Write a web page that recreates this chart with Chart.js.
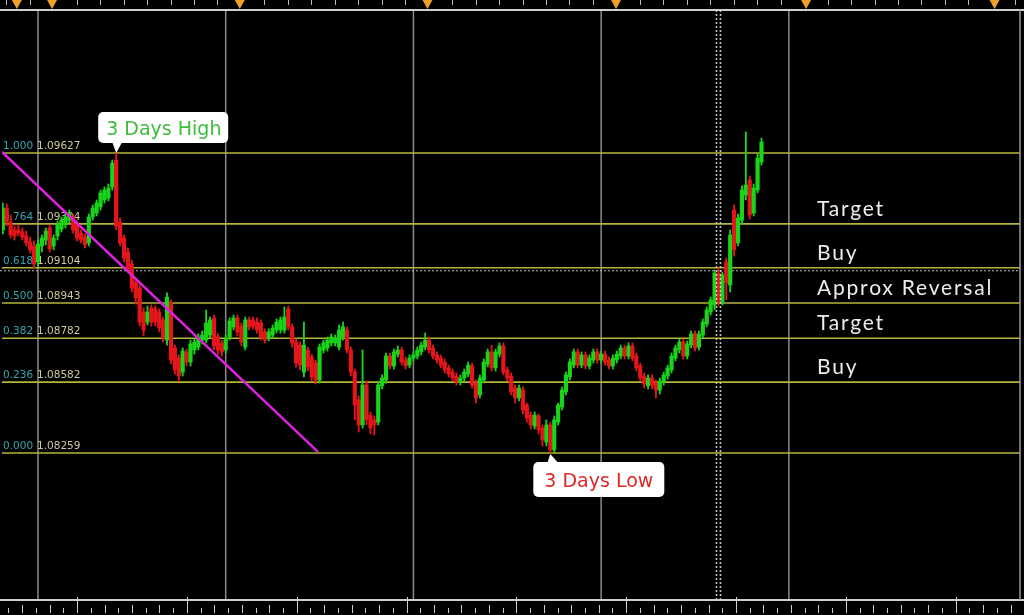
<!DOCTYPE html>
<html>
<head>
<meta charset="utf-8">
<title>EURUSD M30 - Fibonacci 3 days</title>
<script src="https://cdn.jsdelivr.net/npm/chart.js@4.4.0/dist/chart.umd.min.js"></script>
<style>
  html, body { margin: 0; padding: 0; background: #000; }
  #wrap { width: 1024px; height: 615px; position: relative; }
</style>
</head>
<body>
<div id="wrap"><canvas id="fibChart"></canvas></div>
<script>
// one entry per 30 minute bar, index 0 = first visible bar
const opens = [
  1.09276, 1.09376, 1.09312, 1.09276, 1.09276, 1.09267, 1.09249, 1.09221, 1.09203, 1.09130,
  1.09203, 1.09230, 1.09285, 1.09203, 1.09249, 1.09280, 1.09299, 1.09321, 1.09335, 1.09303,
  1.09262, 1.09244, 1.09217, 1.09335, 1.09353, 1.09381, 1.09413, 1.09422, 1.09472, 1.09595,
  1.09312, 1.09239, 1.09176, 1.09121, 1.09039, 1.09011, 1.08902, 1.08856, 1.08920, 1.08916,
  1.08902, 1.08866, 1.08774, 1.08943, 1.08738, 1.08692, 1.08628, 1.08720, 1.08674, 1.08729,
  1.08742, 1.08774, 1.08774, 1.08797, 1.08875, 1.08788, 1.08761, 1.08729, 1.08788, 1.08834,
  1.08875, 1.08838, 1.08742, 1.08866, 1.08866, 1.08856, 1.08852, 1.08811, 1.08783, 1.08797,
  1.08820, 1.08820, 1.08820, 1.08916, 1.08834, 1.08765, 1.08751, 1.08628, 1.08729, 1.08697,
  1.08669, 1.08592, 1.08729, 1.08738, 1.08761, 1.08761, 1.08742, 1.08788, 1.08820, 1.08729,
  1.08628, 1.08501, 1.08387, 1.08569, 1.08432, 1.08410, 1.08400, 1.08565, 1.08592, 1.08701,
  1.08656, 1.08710, 1.08729, 1.08683, 1.08660, 1.08692, 1.08701, 1.08720, 1.08742, 1.08774,
  1.08738, 1.08706, 1.08692, 1.08674, 1.08647, 1.08628, 1.08610, 1.08583, 1.08601, 1.08619,
  1.08656, 1.08578, 1.08524, 1.08592, 1.08665, 1.08720, 1.08647, 1.08710, 1.08747, 1.08638,
  1.08610, 1.08555, 1.08510, 1.08546, 1.08478, 1.08432, 1.08382, 1.08428, 1.08373, 1.08309,
  1.08387, 1.08273, 1.08400, 1.08469, 1.08537, 1.08606, 1.08660, 1.08720, 1.08660, 1.08706,
  1.08656, 1.08683, 1.08720, 1.08683, 1.08710, 1.08683, 1.08656, 1.08683, 1.08701, 1.08738,
  1.08701, 1.08747, 1.08701, 1.08656, 1.08610, 1.08565, 1.08601, 1.08578, 1.08546, 1.08583,
  1.08610, 1.08638, 1.08692, 1.08729, 1.08765, 1.08701, 1.08751, 1.08802, 1.08742, 1.08797,
  1.08847, 1.08902, 1.08934, 1.09080, 1.08948, 1.09130, 1.09025, 1.09367, 1.09217, 1.09321,
  1.09435, 1.09504, 1.09353, 1.09458, 1.09586
];
const highs = [
  1.09399, 1.09395, 1.09344, 1.09294, 1.09299, 1.09285, 1.09271, 1.09244, 1.09226, 1.09230,
  1.09253, 1.09285, 1.09299, 1.09253, 1.09317, 1.09335, 1.09349, 1.09367, 1.09349, 1.09317,
  1.09276, 1.09258, 1.09349, 1.09390, 1.09413, 1.09458, 1.09472, 1.09486, 1.09595, 1.09627,
  1.09331, 1.09253, 1.09194, 1.09139, 1.09057, 1.09025, 1.08920, 1.08929, 1.08934, 1.08929,
  1.08916, 1.08879, 1.08989, 1.08957, 1.08751, 1.08706, 1.08738, 1.08733, 1.08774, 1.08779,
  1.08802, 1.08815, 1.08911, 1.08879, 1.08888, 1.08802, 1.08774, 1.08797, 1.08875, 1.08888,
  1.08888, 1.08852, 1.08879, 1.08879, 1.08879, 1.08875, 1.08866, 1.08825, 1.08825, 1.08843,
  1.08870, 1.08879, 1.08925, 1.08929, 1.08847, 1.08779, 1.08765, 1.08856, 1.08742, 1.08710,
  1.08683, 1.08756, 1.08774, 1.08788, 1.08802, 1.08797, 1.08843, 1.08856, 1.08834, 1.08742,
  1.08642, 1.08519, 1.08729, 1.08587, 1.08446, 1.08428, 1.08587, 1.08615, 1.08715, 1.08715,
  1.08733, 1.08747, 1.08742, 1.08697, 1.08706, 1.08720, 1.08742, 1.08765, 1.08806, 1.08788,
  1.08751, 1.08720, 1.08706, 1.08688, 1.08660, 1.08642, 1.08624, 1.08615, 1.08642, 1.08674,
  1.08669, 1.08592, 1.08615, 1.08688, 1.08733, 1.08751, 1.08733, 1.08761, 1.08761, 1.08651,
  1.08624, 1.08569, 1.08569, 1.08560, 1.08487, 1.08446, 1.08446, 1.08437, 1.08387, 1.08410,
  1.08400, 1.08428, 1.08487, 1.08560, 1.08628, 1.08688, 1.08733, 1.08733, 1.08720, 1.08720,
  1.08706, 1.08733, 1.08733, 1.08724, 1.08724, 1.08697, 1.08706, 1.08724, 1.08751, 1.08751,
  1.08761, 1.08761, 1.08715, 1.08669, 1.08624, 1.08615, 1.08615, 1.08592, 1.08601, 1.08628,
  1.08660, 1.08715, 1.08751, 1.08779, 1.08779, 1.08770, 1.08815, 1.08815, 1.08815, 1.08870,
  1.08925, 1.08970, 1.09094, 1.09103, 1.09084, 1.09148, 1.09276, 1.09390, 1.09349, 1.09477,
  1.09723, 1.09522, 1.09486, 1.09622, 1.09695
];
const lows = [
  1.09258, 1.09294, 1.09239, 1.09230, 1.09249, 1.09230, 1.09203, 1.09171, 1.09103, 1.09112,
  1.09176, 1.09208, 1.09176, 1.09185, 1.09230, 1.09267, 1.09285, 1.09308, 1.09262, 1.09226,
  1.09217, 1.09194, 1.09203, 1.09321, 1.09340, 1.09367, 1.09399, 1.09408, 1.09458, 1.09276,
  1.09203, 1.09130, 1.09084, 1.08993, 1.08938, 1.08838, 1.08793, 1.08843, 1.08838, 1.08838,
  1.08811, 1.08765, 1.08751, 1.08665, 1.08619, 1.08587, 1.08610, 1.08656, 1.08656, 1.08710,
  1.08729, 1.08756, 1.08761, 1.08783, 1.08729, 1.08710, 1.08701, 1.08715, 1.08774, 1.08820,
  1.08793, 1.08747, 1.08729, 1.08820, 1.08825, 1.08806, 1.08774, 1.08761, 1.08770, 1.08783,
  1.08806, 1.08806, 1.08806, 1.08820, 1.08742, 1.08651, 1.08638, 1.08606, 1.08633, 1.08587,
  1.08574, 1.08578, 1.08715, 1.08724, 1.08747, 1.08747, 1.08729, 1.08774, 1.08715, 1.08610,
  1.08410, 1.08355, 1.08373, 1.08387, 1.08346, 1.08341, 1.08387, 1.08551, 1.08578, 1.08642,
  1.08642, 1.08697, 1.08660, 1.08642, 1.08647, 1.08679, 1.08688, 1.08706, 1.08729, 1.08715,
  1.08688, 1.08669, 1.08647, 1.08624, 1.08606, 1.08587, 1.08569, 1.08569, 1.08587, 1.08606,
  1.08555, 1.08487, 1.08510, 1.08578, 1.08651, 1.08633, 1.08633, 1.08697, 1.08615, 1.08587,
  1.08524, 1.08487, 1.08496, 1.08437, 1.08400, 1.08369, 1.08369, 1.08346, 1.08291, 1.08291,
  1.08259, 1.08264, 1.08387, 1.08455, 1.08524, 1.08592, 1.08647, 1.08647, 1.08647, 1.08642,
  1.08642, 1.08669, 1.08669, 1.08669, 1.08660, 1.08642, 1.08642, 1.08669, 1.08688, 1.08688,
  1.08688, 1.08679, 1.08633, 1.08587, 1.08555, 1.08551, 1.08551, 1.08510, 1.08528, 1.08569,
  1.08596, 1.08624, 1.08679, 1.08715, 1.08688, 1.08688, 1.08738, 1.08724, 1.08729, 1.08783,
  1.08834, 1.08888, 1.08911, 1.08929, 1.08934, 1.08957, 1.08993, 1.09157, 1.09203, 1.09303,
  1.09413, 1.09326, 1.09340, 1.09445, 1.09572
];
const closes = [
  1.09376, 1.09312, 1.09253, 1.09249, 1.09262, 1.09244, 1.09217, 1.09185, 1.09121, 1.09212,
  1.09239, 1.09271, 1.09189, 1.09239, 1.09303, 1.09321, 1.09335, 1.09353, 1.09276, 1.09239,
  1.09230, 1.09208, 1.09335, 1.09376, 1.09399, 1.09445, 1.09458, 1.09467, 1.09581, 1.09294,
  1.09217, 1.09148, 1.09103, 1.09011, 1.08966, 1.08856, 1.08820, 1.08902, 1.08856, 1.08856,
  1.08829, 1.08783, 1.08970, 1.08683, 1.08638, 1.08610, 1.08724, 1.08674, 1.08756, 1.08765,
  1.08788, 1.08797, 1.08852, 1.08866, 1.08747, 1.08729, 1.08720, 1.08783, 1.08861, 1.08875,
  1.08811, 1.08765, 1.08866, 1.08834, 1.08838, 1.08820, 1.08788, 1.08774, 1.08811, 1.08829,
  1.08856, 1.08866, 1.08879, 1.08834, 1.08761, 1.08669, 1.08660, 1.08751, 1.08651, 1.08606,
  1.08592, 1.08742, 1.08761, 1.08774, 1.08788, 1.08783, 1.08820, 1.08834, 1.08729, 1.08628,
  1.08478, 1.08387, 1.08569, 1.08410, 1.08373, 1.08387, 1.08569, 1.08601, 1.08701, 1.08656,
  1.08720, 1.08729, 1.08674, 1.08656, 1.08692, 1.08706, 1.08729, 1.08751, 1.08774, 1.08729,
  1.08701, 1.08683, 1.08660, 1.08638, 1.08619, 1.08601, 1.08583, 1.08601, 1.08628, 1.08660,
  1.08569, 1.08510, 1.08601, 1.08674, 1.08720, 1.08647, 1.08720, 1.08747, 1.08628, 1.08601,
  1.08537, 1.08510, 1.08555, 1.08455, 1.08419, 1.08387, 1.08432, 1.08364, 1.08318, 1.08387,
  1.08273, 1.08410, 1.08478, 1.08546, 1.08615, 1.08674, 1.08720, 1.08660, 1.08706, 1.08656,
  1.08692, 1.08720, 1.08683, 1.08710, 1.08674, 1.08656, 1.08692, 1.08710, 1.08738, 1.08701,
  1.08747, 1.08692, 1.08647, 1.08601, 1.08574, 1.08601, 1.08569, 1.08546, 1.08587, 1.08615,
  1.08647, 1.08701, 1.08738, 1.08765, 1.08701, 1.08756, 1.08802, 1.08738, 1.08802, 1.08856,
  1.08911, 1.08957, 1.09080, 1.08948, 1.09071, 1.09034, 1.09253, 1.09185, 1.09331, 1.09458,
  1.09481, 1.09344, 1.09467, 1.09604, 1.09677
];

// fibonacci retracement drawn from the 3 day high to the 3 day low
const fibRatios = ['1.000', '0.764', '0.618', '0.500', '0.382', '0.236', '0.000'];
const fibPrices = [1.09627, 1.09304, 1.09104, 1.08943, 1.08782, 1.08582, 1.08259];
// note written on the right, just above the level with the same index (0.764 .. 0.236)
const sideLabels = ['Target', 'Buy', 'Approx Reversal', 'Target', 'Buy'];
const sideLevels = [1, 2, 3, 4, 5];

const highBar = 29;    // 3 Days High
const lowBar = 140;    // 3 Days Low
const daySeparators = [9, 57, 105, 153, 201];
const markerBar = 183;
const eventMarks = [3.6, 12.6, 60.6, 108.6, 156.8, 205.4, 253.6];
const priceLine = 1.09090;
const trendX = [-0.2, 80.6];
const trendY = [1.09632, 1.08264];

const upColor = '#1ad41a';
const downColor = '#e5161b';
const candleColor = ctx => closes[ctx.dataIndex] >= opens[ctx.dataIndex] ? upColor : downColor;

const fibDecor = {
    id: 'fibDecor',
    beforeDatasetsDraw(chart) {
        const { ctx, chartArea: a, scales: { x, y } } = chart;
        ctx.save();
        // day separators
        ctx.strokeStyle = '#8a8a8a';
        ctx.lineWidth = 1.5;
        daySeparators.forEach(d => {
            const px = x.getPixelForValue(d);
            ctx.beginPath(); ctx.moveTo(px, a.top); ctx.lineTo(px, a.bottom); ctx.stroke();
        });
        // fibonacci levels
        fibPrices.forEach((p, k) => {
            const py = y.getPixelForValue(p);
            ctx.strokeStyle = '#b5b53a';
            ctx.lineWidth = 1.6;
            ctx.beginPath(); ctx.moveTo(a.left, py); ctx.lineTo(a.right, py); ctx.stroke();
            ctx.font = '10.5px "DejaVu Sans"';
            ctx.textBaseline = 'alphabetic';
            ctx.fillStyle = '#33a6ae';
            ctx.fillText(fibRatios[k], a.left + 1, py - 4);
            ctx.fillStyle = '#cdca9e';
            ctx.fillText(p.toFixed(5), a.left + 35, py - 4);
        });
        // dotted price line
        const pl = y.getPixelForValue(priceLine);
        ctx.strokeStyle = '#bdbdbd';
        ctx.lineWidth = 1;
        ctx.setLineDash([2, 2]);
        ctx.beginPath(); ctx.moveTo(0, pl); ctx.lineTo(a.right, pl); ctx.stroke();
        ctx.restore();
    },
    afterDatasetsDraw(chart) {
        const { ctx, chartArea: a, scales: { x, y } } = chart;
        ctx.save();
        // double dotted vertical marker
        const mx = x.getPixelForValue(markerBar);
        ctx.strokeStyle = '#c8c8c8';
        ctx.lineWidth = 1.5;
        ctx.setLineDash([2, 2]);
        [-2, 2].forEach(off => {
            ctx.beginPath(); ctx.moveTo(mx + off, a.top); ctx.lineTo(mx + off, a.bottom); ctx.stroke();
        });
        ctx.setLineDash([]);

        // notes on the right
        ctx.font = '21px Lato';
        ctx.letterSpacing = '1.8px';
        ctx.fillStyle = '#ededed';
        ctx.textBaseline = 'alphabetic';
        sideLabels.forEach((t, k) => {
            const py = y.getPixelForValue(fibPrices[sideLevels[k]]);
            ctx.fillText(t, a.left + 815, py - 8);
        });
        ctx.letterSpacing = '0px';

        // callouts
        const bubble = (bx, by, w, h, tri) => {
            ctx.fillStyle = '#ffffff';
            ctx.beginPath();
            ctx.roundRect(bx, by, w, h, 5);
            ctx.fill();
            ctx.beginPath();
            ctx.moveTo(tri[0][0], tri[0][1]);
            ctx.lineTo(tri[1][0], tri[1][1]);
            ctx.lineTo(tri[2][0], tri[2][1]);
            ctx.closePath();
            ctx.fill();
        };
        ctx.font = '19px "DejaVu Sans"';
        const hx = x.getPixelForValue(highBar), hy = y.getPixelForValue(highs[highBar]);
        bubble(hx - 18, hy - 41, 130, 31, [[hx - 4, hy - 11], [hx + 6, hy - 11], [hx, hy]]);
        ctx.fillStyle = '#3dbb3d';
        ctx.fillText('3 Days High', hx - 10, hy - 18);

        const lx = x.getPixelForValue(lowBar), ly = y.getPixelForValue(lows[lowBar]);
        bubble(lx - 17, ly + 9, 131, 35, [[lx - 3, ly + 10], [lx + 8, ly + 10], [lx, ly + 1]]);
        ctx.fillStyle = '#e12626';
        ctx.fillText('3 Days Low', lx - 6, ly + 34);
        ctx.restore();
    },
    afterDraw(chart) {
        const { ctx, chartArea: a, scales: { x } } = chart;
        const W = chart.width;
        ctx.save();
        // top time strip
        ctx.strokeStyle = '#bdbdbd';
        ctx.lineWidth = 1;
        for (let v = 0.9; v <= x.max; v += 6) {
            const px = Math.round(x.getPixelForValue(v)) + 0.5;
            ctx.beginPath(); ctx.moveTo(px, 0); ctx.lineTo(px, 5); ctx.stroke();
        }
        ctx.fillStyle = '#f0a02a';
        eventMarks.forEach(v => {
            const px = x.getPixelForValue(v);
            ctx.beginPath();
            ctx.moveTo(px - 5, 0); ctx.lineTo(px + 5, 0); ctx.lineTo(px, 9);
            ctx.closePath(); ctx.fill();
        });
        // frame
        ctx.strokeStyle = '#cfcfcf';
        ctx.lineWidth = 2;
        ctx.beginPath(); ctx.moveTo(0, a.top); ctx.lineTo(W, a.top); ctx.stroke();
        ctx.beginPath(); ctx.moveTo(0, a.bottom); ctx.lineTo(W, a.bottom); ctx.stroke();
        ctx.strokeStyle = '#9a9a9a';
        ctx.lineWidth = 1.5;
        ctx.beginPath(); ctx.moveTo(a.right, a.top); ctx.lineTo(a.right, a.bottom); ctx.stroke();
        // bottom ruler
        ctx.strokeStyle = '#d0d0d0';
        ctx.lineWidth = 1;
        const step = 3.51;
        for (let n = -8; 19 + n * step <= x.max + 2; n++) {
            const px = Math.round(x.getPixelForValue(19 + n * step)) + 0.5;
            const m = ((n % 8) + 8) % 8;
            const top = m === 0 ? a.bottom - 3 : (m % 2 === 0 ? a.bottom + 5 : a.bottom + 8);
            ctx.beginPath(); ctx.moveTo(px, top); ctx.lineTo(px, a.bottom + 13); ctx.stroke();
        }
        ctx.restore();
    }
};

const ctx = document.getElementById('fibChart').getContext('2d');
const fibChart = new Chart(ctx, {
    type: 'bar',
    data: {
        datasets: [
            {
                type: 'line',
                label: 'Trend',
                data: trendX.map((v, i) => ({ x: v, y: trendY[i] })),
                borderColor: '#df20df',
                borderWidth: 2.5,
                pointRadius: 0,
                fill: false
            },
            {
                label: 'Body',
                data: opens.map((o, i) => ({ x: i, y: [o, closes[i]] })),
                backgroundColor: candleColor,
                barThickness: 3.5,
                grouped: false,
                borderWidth: 0
            },
            {
                label: 'Wick',
                data: lows.map((l, i) => ({ x: i, y: [l, highs[i]] })),
                backgroundColor: candleColor,
                barThickness: 1.2,
                grouped: false,
                borderWidth: 0
            }
        ]
    },
    options: {
        responsive: true,
        maintainAspectRatio: false,
        animation: false,
        layout: { padding: { left: 2, right: 4, top: 10, bottom: 15 } },
        scales: {
            x: { type: 'linear', min: -0.2, max: 260.1, offset: false, display: false },
            y: { min: 1.075887, max: 1.102791, display: false }
        },
        plugins: {
            legend: { display: false },
            tooltip: { enabled: false }
        }
    },
    plugins: [fibDecor]
});
</script>
</body>
</html>
